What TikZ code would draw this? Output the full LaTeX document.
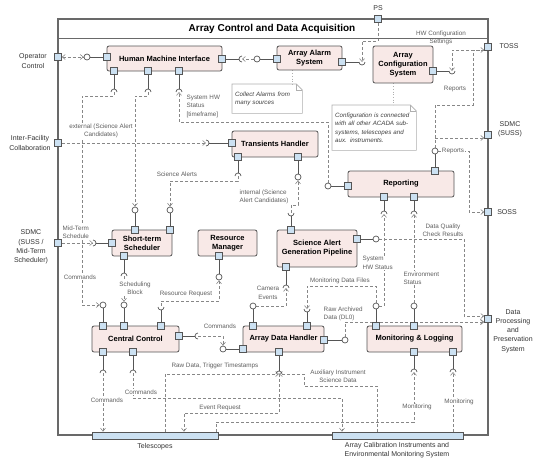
\documentclass[tikz,border=0pt]{standalone}
\usepackage{fontspec}
\setmainfont{Liberation Sans}
\usepackage{xcolor}
\definecolor{compfill}{RGB}{248,233,231}
\definecolor{compline}{RGB}{85,85,85}
\definecolor{portfill}{RGB}{204,225,242}
\definecolor{depgray}{RGB}{135,135,135}
\definecolor{lblgray}{RGB}{95,95,95}
\definecolor{framegray}{RGB}{105,105,105}
\definecolor{notegray}{RGB}{175,175,175}
\usepackage{tikz}
\usetikzlibrary{arrows.meta, positioning, calc, backgrounds}

% socket (required interface): half circle, #2 = direction of its opening
\newcommand{\sockt}[2]{\draw[wire] (#1) ++(#2+90:3pt) arc[start angle=#2+90, delta angle=180, radius=3pt];}

\begin{document}
\begin{tikzpicture}[x=1pt, y=-1pt, >={Straight Barb[length=3pt,width=5pt]},
        comp/.style={rectangle, draw=compline, fill=compfill, rounded corners=2pt, line width=0.8pt, align=center, font=\fontsize{7.5}{9}\selectfont\bfseries, inner sep=1pt},
        port/.style={rectangle, draw=compline, fill=portfill, minimum size=7pt, inner sep=0pt, line width=0.6pt},
        lolli/.style={circle, draw=compline, fill=white, minimum size=6pt, inner sep=0pt, line width=0.7pt},
        wire/.style={draw=compline, line width=0.7pt},
        dep/.style={draw=depgray, line width=0.6pt, dash pattern=on 3pt off 2pt, ->},
        lbl/.style={font=\fontsize{6.3}{8.5}\selectfont, text=lblgray, fill=white, inner sep=0.5pt, align=center},
        ext/.style={font=\fontsize{7}{9.2}\selectfont, text=black!80, align=center},
        bar/.style={rectangle, draw=compline, fill=portfill, line width=0.8pt, minimum height=7pt, inner sep=0pt},
        notetext/.style={font=\fontsize{6.2}{8.5}\selectfont\itshape, text=black!75, align=left, inner sep=3pt, anchor=north west},
        notebox/.style={draw=notegray, fill=white, line width=0.6pt},
        noteline/.style={draw=notegray, dotted, line width=0.7pt}]

        \useasboundingbox (0,0) rectangle (537,459);

        % ACADA boundary and title
        \node[draw=framegray, line width=1.2pt, minimum width=430pt, minimum height=416pt, inner sep=0pt] (acada) at (273,227) {};
        \node[font=\fontsize{10}{12}\selectfont\bfseries] (title) at (272,29) {Array Control and Data Acquisition};
        \draw[framegray, line width=0.6pt] (acada.west |- 0,38) -- (acada.east |- 0,38);

        % Components
        \node[comp, minimum width=115pt, minimum height=25pt] (hmi) at (164.5,58.5) {Human Machine Interface};
        \node[comp, minimum width=65pt, minimum height=24pt] (aas) at (309.5,58) {Array Alarm\\System};
        \node[comp, minimum width=60pt, minimum height=37pt] (acs) at (403,64.5) {Array\\Configuration\\System};
        \node[comp, minimum width=86pt, minimum height=26pt] (trh) at (275,144) {Transients Handler};
        \node[comp, minimum width=106pt, minimum height=26pt] (rep) at (401,184) {Reporting};
        \node[comp, minimum width=60pt, minimum height=26pt] (sts) at (142,243) {Short-term\\Scheduler};
        \node[comp, minimum width=59pt, minimum height=26pt] (rsm) at (227.5,243) {Resource\\Manager};
        \node[comp, minimum width=80pt, minimum height=37pt] (sag) at (317,248.5) {Science Alert\\Generation Pipeline};
        \node[comp, minimum width=87pt, minimum height=26pt] (cc) at (135.5,339) {Central Control};
        \node[comp, minimum width=81pt, minimum height=26pt] (adh) at (283.5,339) {Array Data Handler};
        \node[comp, minimum width=95pt, minimum height=26pt] (mnl) at (414.5,339) {Monitoring \& Logging};

        % External systems
        \node[bar, minimum width=126pt] (tel) at (155,435.5) {};
        \node[bar, minimum width=131pt] (cal) at (397.5,435.5) {};

        % Notes
        \node[notetext, text width=64pt, minimum height=29pt] (nalarm) at (232,84) {Collect Alarms from\\many sources};
        \node[notetext, text width=78pt, minimum height=45pt] (nconf) at (332,105) {Configuration is connected\\with all other ACADA sub-\\systems, telescopes and\\aux. instruments.};

        % Boundary ports
        \node[port] (opc) at (58,57) {};
        \node[port] (ifc) at (58,143) {};
        \node[port] (sdmcl) at (58,243) {};
        \node[port] (ps) at (378,19) {};
        \node[port] (toss) at (488,47) {};
        \node[port] (sdmcr) at (488,135) {};
        \node[port] (soss) at (488,212) {};
        \node[port] (dpps) at (488,319) {};

        % Component ports
        \node[port] (hmiw) at (107,57) {};
        \node[port] (hmie) at (222,59) {};
        \node[port] (hmis1) at (114,71) {};
        \node[port] (hmis2) at (148,71) {};
        \node[port] (hmis3) at (179,71) {};
        \node[port] (aasw) at (277,59) {};
        \node[port] (aase) at (342,62) {};
        \node[port] (acse) at (433,71) {};
        \node[port] (trhw) at (232,143) {};
        \node[port] (trhs1) at (238,157) {};
        \node[port] (trhs2) at (298,157) {};
        \node[port] (repn) at (435,171) {};
        \node[port] (repw) at (348,186) {};
        \node[port] (reps1) at (384,197) {};
        \node[port] (reps2) at (414,197) {};
        \node[port] (stsn1) at (135,230) {};
        \node[port] (stsn2) at (170,230) {};
        \node[port] (stsw) at (112,243) {};
        \node[port] (stss) at (124,256) {};
        \node[port] (rsms) at (219,256) {};
        \node[port] (sagn) at (291,230) {};
        \node[port] (sage) at (357,239) {};
        \node[port] (sags) at (286,267) {};
        \node[port] (ccn1) at (103,326) {};
        \node[port] (ccn2) at (124,326) {};
        \node[port] (ccn3) at (161,326) {};
        \node[port] (cce) at (179,336) {};
        \node[port] (ccs1) at (103,352) {};
        \node[port] (ccs2) at (133,352) {};
        \node[port] (adhn1) at (253,326) {};
        \node[port] (adhn2) at (307,326) {};
        \node[port] (adhw) at (243,349) {};
        \node[port] (adhe) at (324,340) {};
        \node[port] (adhs) at (279,352) {};
        \node[port] (mnln1) at (376,326) {};
        \node[port] (mnln2) at (414,326) {};
        \node[port] (mnls1) at (414,352) {};
        \node[port] (mnls2) at (453,352) {};

        % Provided interfaces (lollipops)
        \node[lolli] (lopc) at (87,57) {};
        \node[lolli] (laas) at (257,59) {};
        \node[lolli] (lrepn) at (435,151) {};
        \node[lolli] (lrepw) at (328,186) {};
        \node[lolli] (ltrh) at (298,177) {};
        \node[lolli] (lsts1) at (135,210) {};
        \node[lolli] (lsts2) at (170,210) {};
        \node[lolli] (lrsm) at (219,277) {};
        \node[lolli] (lsag) at (376,239) {};
        \node[lolli] (lcc1) at (103,305) {};
        \node[lolli] (lcc2) at (124,305) {};
        \node[lolli] (ladhw) at (223,349) {};
        \node[lolli] (ladhn) at (253,306) {};
        \node[lolli] (ladhe) at (345,340) {};
        \node[lolli] (lmnl1) at (376,306) {};
        \node[lolli] (lmnl2) at (414,306) {};

        % Required interfaces (sockets)
        \coordinate (shmie) at (242,59);
        \coordinate (saase) at (362,62);
        \coordinate (sacse) at (452,71);
        \coordinate (shmi1) at (114,92);
        \coordinate (shmi2) at (148,92);
        \coordinate (shmi3) at (179,92);
        \coordinate (strhw) at (206,143);
        \coordinate (strh1) at (238,176);
        \coordinate (ssagn) at (291,213);
        \coordinate (sstsw) at (93,243);
        \coordinate (ssts2) at (124,276);
        \coordinate (scc3) at (161,307);
        \coordinate (scce) at (198,336);
        \coordinate (ssags) at (286,288);
        \coordinate (sadhn) at (307,309);
        \coordinate (srep1) at (384,214);
        \coordinate (srep2) at (414,214);
        \coordinate (sadhs) at (279,374);
        \coordinate (scc1) at (103,373);
        \coordinate (scc2) at (133,373);
        \coordinate (smnl1) at (414,372);
        \coordinate (smnl2) at (453,372);

        \sockt{shmie}{0}
        \sockt{saase}{90}
        \sockt{sacse}{90}
        \sockt{shmi1}{270}
        \sockt{shmi2}{270}
        \sockt{shmi3}{270}
        \sockt{strhw}{180}
        \sockt{strh1}{270}
        \sockt{ssagn}{90}
        \sockt{sstsw}{180}
        \sockt{ssts2}{270}
        \sockt{scc3}{90}
        \sockt{scce}{0}
        \sockt{ssags}{270}
        \sockt{sadhn}{90}
        \sockt{srep1}{270}
        \sockt{srep2}{270}
        \sockt{sadhs}{270}
        \sockt{scc1}{270}
        \sockt{scc2}{270}
        \sockt{smnl1}{270}
        \sockt{smnl2}{270}

        % Connector labels
        \node[lbl] (lbext) at (101,131) {external (Science Alert\\Candidates)};
        \node[lbl, anchor=west, align=left] (lbhw) at (186,106) {System HW\\Status\\{[timeframe]}};
        \node[lbl] (lbcmd1) at (80,277) {Commands};
        \node[lbl] (lbsci) at (177,174) {Science Alerts};
        \node[lbl, anchor=west, align=left] (lbint) at (239,197) {internal (Science\\Alert Candidates)};
        \node[lbl, anchor=west, align=left] (lbmts) at (62,232) {Mid-Term\\Schedule};
        \node[lbl] (lbsb) at (135,288) {Scheduling\\Block};
        \node[lbl] (lbrr) at (186,294) {Resource Request};
        \node[lbl] (lbcam) at (268,293) {Camera\\Events};
        \node[lbl] (lbmdf) at (340,281) {Monitoring Data Files};
        \node[lbl] (lbcmd2) at (220,326) {Commands};
        \node[lbl, anchor=west, align=left] (lbshw) at (362,263) {System\\HW Status};
        \node[lbl, anchor=west, align=left] (lbenv) at (403,278) {Environment\\Status};
        \node[lbl] (lbdq) at (443,230) {Data Quality\\Check Results};
        \node[lbl, anchor=west, align=left] (lbraw) at (323,314) {Raw Archived\\Data (DL0)};
        \node[lbl] (lbrep1) at (455,89) {Reports};
        \node[lbl] (lbrep2) at (453,151) {Reports};
        \node[lbl, fill=none] (lbhwc) at (441,38) {HW Configuration\\Settings};
        \node[lbl] (lbrdt) at (215,366) {Raw Data,\ Trigger Timestamps};
        \node[lbl] (lbaux) at (338,376) {Auxiliary Instrument\\Science Data};
        \node[lbl] (lbev) at (220,408) {Event Request};
        \node[lbl] (lbcmd3) at (107,400) {Commands};
        \node[lbl] (lbcmd4) at (141,392) {Commands};
        \node[lbl] (lbmon1) at (417,407) {Monitoring};
        \node[lbl] (lbmon2) at (459,402) {Monitoring};

        % External labels
        \node[ext] (lbopc) at (33,61) {Operator\\Control};
        \node[ext] (lbifc) at (30,143) {Inter-Facility\\Collaboration};
        \node[ext] (lbsdl) at (31,247) {SDMC\\(SUSS /\\Mid-Term\\Scheduler)};
        \node[ext] (lbps) at (378,8) {PS};
        \node[ext] (lbtoss) at (509,46) {TOSS};
        \node[ext] (lbsdr) at (510,129) {SDMC\\(SUSS)};
        \node[ext] (lbsoss) at (507,212) {SOSS};
        \node[ext] (lbdp) at (513,331) {Data\\Processing\\and\\Preservation\\System};
        \node[ext] (lbtel) at (155,447) {Telescopes};
        \node[ext] (lbcal) at (397,450) {Array Calibration Instruments and\\Environmental Monitoring System};

        \begin{scope}[on background layer]
            % Notes
            \path[notebox] (nalarm.north west) -- ([xshift=-6pt]nalarm.north east) -- ([yshift=-6pt]nalarm.north east) -- (nalarm.south east) -- (nalarm.south west) -- cycle;
            \draw[notegray] ([xshift=-6pt]nalarm.north east) |- ([yshift=-6pt]nalarm.north east);
            \path[notebox] (nconf.north west) -- ([xshift=-6pt]nconf.north east) -- ([yshift=-6pt]nconf.north east) -- (nconf.south east) -- (nconf.south west) -- cycle;
            \draw[notegray] ([xshift=-6pt]nconf.north east) |- ([yshift=-6pt]nconf.north east);
            \draw[noteline] (aas.south -| 292,0) -- (nalarm.north -| 292,0);
            \draw[noteline] (acs.south -| 393,0) -- (nconf.north -| 393,0);

            % Port wires
            \draw[wire] (hmiw) -- (lopc);
            \draw[wire] (hmie) -- ([xshift=-3pt]shmie);
            \draw[wire] (aasw) -- (laas);
            \draw[wire] (aase) -- ([xshift=-3pt]saase);
            \draw[wire] (acse) -- ([xshift=-3pt]sacse);
            \draw[wire] (hmis1) -- ([yshift=3pt]shmi1);
            \draw[wire] (hmis2) -- ([yshift=3pt]shmi2);
            \draw[wire] (hmis3) -- ([yshift=3pt]shmi3);
            \draw[wire] (trhw) -- ([xshift=3pt]strhw);
            \draw[wire] (trhs1) -- ([yshift=3pt]strh1);
            \draw[wire] (trhs2) -- (ltrh);
            \draw[wire] (repn) -- (lrepn);
            \draw[wire] (repw) -- (lrepw);
            \draw[wire] (reps1) -- ([yshift=3pt]srep1);
            \draw[wire] (reps2) -- ([yshift=3pt]srep2);
            \draw[wire] (stsn1) -- (lsts1);
            \draw[wire] (stsn2) -- (lsts2);
            \draw[wire] (stsw) -- ([xshift=3pt]sstsw);
            \draw[wire] (stss) -- ([yshift=3pt]ssts2);
            \draw[wire] (rsms) -- (lrsm);
            \draw[wire] (sagn) -- ([yshift=-3pt]ssagn);
            \draw[wire] (sage) -- (lsag);
            \draw[wire] (sags) -- ([yshift=3pt]ssags);
            \draw[wire] (ccn1) -- (lcc1);
            \draw[wire] (ccn2) -- (lcc2);
            \draw[wire] (ccn3) -- ([yshift=-3pt]scc3);
            \draw[wire] (cce) -- ([xshift=-3pt]scce);
            \draw[wire] (ccs1) -- ([yshift=3pt]scc1);
            \draw[wire] (ccs2) -- ([yshift=3pt]scc2);
            \draw[wire] (adhn1) -- (ladhn);
            \draw[wire] (adhn2) -- ([yshift=-3pt]sadhn);
            \draw[wire] (adhw) -- (ladhw);
            \draw[wire] (adhe) -- (ladhe);
            \draw[wire] (adhs) -- ([yshift=3pt]sadhs);
            \draw[wire] (mnln1) -- (lmnl1);
            \draw[wire] (mnln2) -- (lmnl2);
            \draw[wire] (mnls1) -- ([yshift=3pt]smnl1);
            \draw[wire] (mnls2) -- ([yshift=3pt]smnl2);

            % Dependencies, top part
            \path[dep, <->] (opc) -- (lopc);
            \path[dep] (laas) -- (shmie);
            \path[dep] (ps) |- (362,41) -- (saase);
            \path[dep] ([yshift=-3pt]toss.west) -| (sacse);
            \path[dep] (lrepn) |- (473,105) |- ([yshift=-3pt]toss.west);
            \path[dep] (lrepn) |- ([yshift=-3pt]sdmcr.west);
            \path[dep] (lrepn) -| (469,212) -- (soss);
            \path[dep] (shmi1) |- (82,96) |- (lcc1);
            \path[dep] (shmi2) |- (135,96) -- (lsts1);
            \path[dep] (lrepw) |- (179,122) -- (shmi3);
            \path[dep] (ifc) -- (strhw);
            \path[dep] (strh1) |- (170,181) -- (lsts2);
            \path[dep] (ssagn) |- (298,205) -- (ltrh);
            \path[dep] (sdmcl) -- (sstsw);

            % Dependencies, middle part
            \path[dep] (ssts2) -- (lcc2);
            \path[dep, <-] (lrsm) |- (161,301) -- (scc3);
            \path[dep] (scce) -| (ladhw);
            \path[dep] (ladhn) -| (ssags);
            \path[dep] (lmnl1) |- (307,286) -- (sadhn);
            \path[dep] (lmnl1) -| (srep1);
            \path[dep] (lmnl2) -- (srep2);
            \path[dep] (lsag) -| (464,316) -- ([yshift=3pt]dpps.west);
            \path[dep, line width=1pt] (ladhe) |- ([yshift=-3pt]dpps.west);

            % Dependencies to the telescopes and instruments
            \path[dep] (tel.north -| 165,0) |- (sadhs);
            \path[dep] (cal.north -| 377,0) |- (304,386) |- (sadhs);
            \path[dep] (sadhs) |- (184,413) -- (tel.north -| 184,0);
            \path[dep] (scc1) -- (tel.north -| 103,0);
            \path[dep] (scc2) |- (342,398) -- (cal.north -| 342,0);
            \path[dep] (tel.north -| 216,0) |- (414,422) -- (smnl1);
            \path[dep] (cal.north -| 453,0) -- (smnl2);
        \end{scope}
\end{tikzpicture}
\end{document}
